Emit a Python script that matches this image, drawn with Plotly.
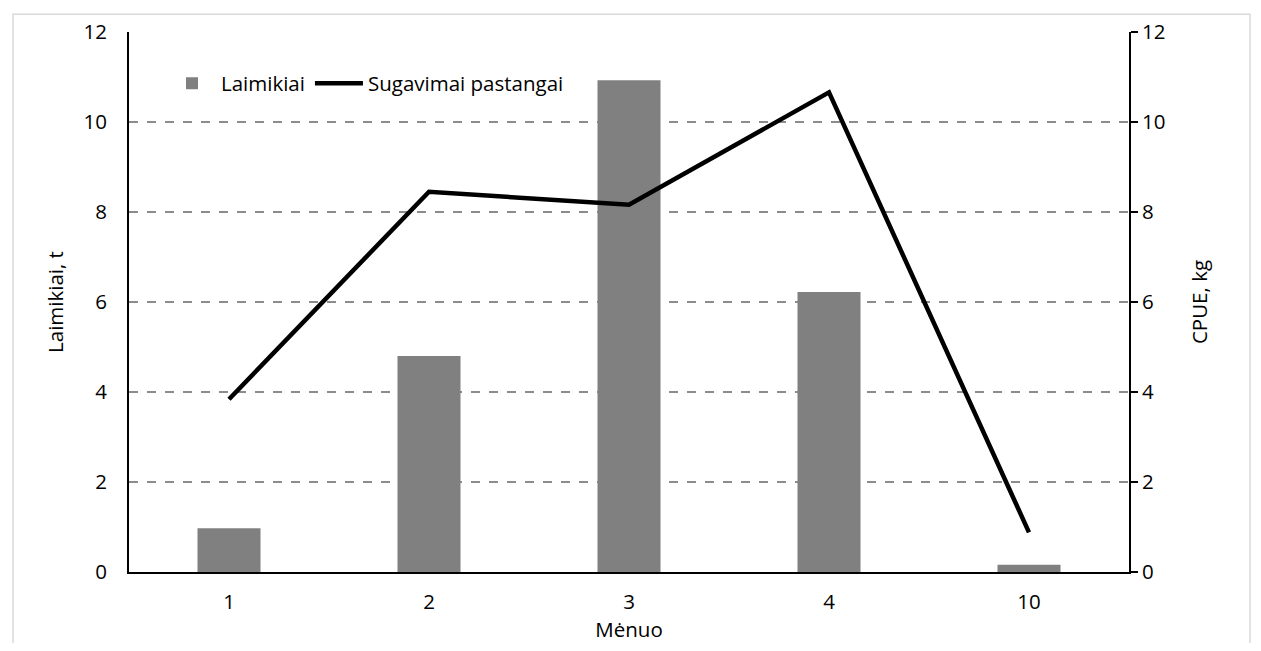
import plotly.graph_objects as go

months = ["1", "2", "3", "4", "10"]
laimikiai = [0.97, 4.8, 10.93, 6.22, 0.16]
cpue = [3.84, 8.45, 8.16, 10.66, 0.88]

FONT = "Open Sans"
FS = 20.5

fig = go.Figure()
fig.add_trace(go.Bar(
    x=months, y=laimikiai, name="Laimikiai",
    marker=dict(color="#808080", line=dict(width=0)),
    yaxis="y",
))
fig.add_trace(go.Scatter(
    x=months, y=cpue, name="Sugavimai pastangai", mode="lines",
    line=dict(color="black", width=4.5),
    yaxis="y2",
))

fig.update_layout(
    width=1245, height=635,
    margin=dict(l=121, r=124, t=24, b=71),
    paper_bgcolor="white", plot_bgcolor="white",
    font=dict(family=FONT, size=FS, color="black"),
    bargap=0.685,
    showlegend=True,
    legend=dict(orientation="h", x=0.034, y=0.905, xanchor="left", yanchor="middle",
                bgcolor="rgba(0,0,0,0)", font=dict(size=FS), itemwidth=48,
                tracegroupgap=0, traceorder="normal"),
    xaxis=dict(type="category", showline=True, linecolor="black", linewidth=2,
               ticks="outside", ticklen=10, tickcolor="rgba(0,0,0,0)",
               showgrid=False, tickfont=dict(size=FS), automargin=False,
               title=dict(text="Mėnuo", font=dict(size=FS), standoff=2)),
    yaxis=dict(range=[0, 12], dtick=2, showline=True, linecolor="black", linewidth=2,
               showgrid=True, gridcolor="#8c8c8c", griddash="dash", gridwidth=1.5,
               ticks="outside", ticklen=16, tickcolor="rgba(0,0,0,0)",
               zeroline=False, tickfont=dict(size=FS), automargin=False,
               title=dict(text="Laimikiai, t", font=dict(size=FS), standoff=14)),
    yaxis2=dict(range=[0, 12], dtick=2, overlaying="y", side="right", showline=True,
                linecolor="black", linewidth=2, showgrid=False, zeroline=False,
                ticks="outside", ticklen=7, tickwidth=2, tickcolor="black",
                tickfont=dict(size=FS), automargin=False,
                title=dict(text="CPUE, kg", font=dict(size=FS), standoff=28)),
    shapes=[dict(type="rect", xref="paper", yref="paper",
                 x0=-0.116, x1=1.121, y0=-0.16, y1=1.033,
                 line=dict(color="#d9d9d9", width=1.5), fillcolor="rgba(0,0,0,0)",
                 layer="below")],
)

fig.write_html("out.html")
